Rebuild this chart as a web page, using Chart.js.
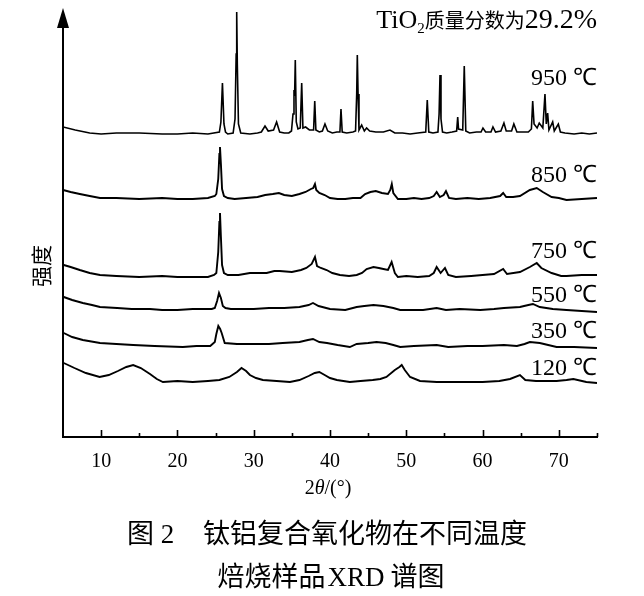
<!DOCTYPE html>
<html>
<head>
<meta charset="utf-8">
<script src="https://cdn.jsdelivr.net/npm/chart.js@4.4.1/dist/chart.umd.min.js"></script>
<style>
  html, body { margin: 0; padding: 0; background: #fff; }
  canvas { display: block; }
</style>
</head>
<body>
<canvas id="c" width="644" height="596"></canvas>
<script>
// ---------- data: [2θ (°), relative intensity (a.u.)] ----------
const xrd950 = [[5.0,7],[6.6,4],[8.5,1],[10,0],[12,1],[15,1],[18,0],[20,0],[22,1],[24,0],[25.5,2],[25.7,12],[25.9,51],[26.1,10],[26.3,2],[26.6,0],[27.3,1],[27.55,15],[27.7,80],[27.77,122],[27.85,70],[28.0,10],[28.3,1],[29.5,0],[30.5,1],[31.0,2],[31.48,8],[31.9,3],[32.6,4],[33.0,12],[33.4,2],[34.0,1],[34.6,1],[34.95,3],[35.15,20],[35.28,44],[35.36,38],[35.45,74],[35.58,12],[35.8,5],[36.1,6],[36.29,51],[36.45,6],[36.8,7],[37.3,4],[37.85,4],[38.0,33],[38.15,4],[38.6,2],[39.0,3],[39.34,10],[39.7,3],[40.3,1],[40.9,2],[41.3,2],[41.44,25],[41.6,2],[42.2,1],[43.0,2],[43.35,3],[43.5,40],[43.58,79],[43.68,40],[43.8,4],[44.15,9],[44.5,3],[44.8,6],[45.2,3],[46.0,2],[47.0,2],[47.86,4],[48.5,1],[49.5,1],[50.5,0],[51.5,1],[52.55,2],[52.75,34],[52.95,2],[53.5,1],[54.15,2],[54.3,20],[54.42,59],[54.55,15],[54.75,2],[55.3,1],[56.0,2],[56.6,3],[56.74,17],[56.85,5],[57.4,4],[57.6,68],[57.8,3],[58.3,1],[59.2,2],[59.8,2],[60.05,6],[60.4,2],[61.1,2],[61.36,7],[61.7,2],[62.4,3],[62.8,11],[63.1,3],[63.8,3],[64.1,10],[64.5,2],[65.2,2],[66.0,2],[66.4,5],[66.57,33],[66.75,10],[67.15,6],[67.43,11],[67.9,6],[68.18,40],[68.35,10],[68.53,21],[68.7,4],[69.19,12],[69.4,3],[69.93,10],[70.2,2],[70.8,1],[72,0],[73,1],[74,0],[75,1]];
const xrd850 = [[5.0,9],[6.0,7],[7.2,5],[8.5,3],[9.85,1],[12,1],[15,0],[18,1],[20,0],[22,0],[24,1],[24.9,3],[25.1,5],[25.35,20],[25.5,45],[25.58,52],[25.7,35],[25.85,10],[26.1,3],[26.6,1],[27.5,0],[29,1],[30.5,2],[31.5,4],[32.5,5],[33.3,6],[34,4],[35,3],[36,5],[36.8,7],[37.5,10],[37.8,11],[38.03,15],[38.2,9],[38.6,6],[39.3,4],[40,1],[41,0],[42,0],[43,1],[44.0,1],[44.6,5],[45.3,7],[46.0,8],[46.8,6],[47.6,5],[47.9,9],[48.1,15],[48.3,6],[48.9,0],[50,0],[51,1],[52,0],[53,1],[53.6,3],[53.98,7],[54.4,2],[54.9,4],[55.2,8],[55.6,1],[56.5,0],[58,1],[59.5,0],[61,1],[62.3,3],[62.7,6],[63.1,2],[64.0,2],[64.9,3],[66.2,9],[67.1,11],[67.9,7],[69.05,2],[70,1],[71.0,-1],[73,0],[75,1]];
const xrd750 = [[5.1,12],[6.0,10],[7.2,7],[8.5,4],[9.85,2],[12,1],[15,0],[18,1],[20,0],[22,0],[24,0],[24.8,2],[25.1,4],[25.35,25],[25.5,55],[25.58,64],[25.7,40],[25.85,12],[26.1,4],[26.6,2],[28,2],[29.5,4],[31.7,4],[32.7,6],[33.4,6],[35,5],[36.2,7],[36.9,9],[37.6,13],[38.03,20],[38.3,11],[38.8,9],[39.56,7],[40.3,4],[41.3,2],[42.5,1],[43.5,2],[44.2,4],[44.8,8],[45.7,10],[46.4,9],[47.0,8],[47.6,7],[48.08,15],[48.5,4],[48.9,0],[50,1],[51.5,0],[53,1],[53.6,4],[53.98,10],[54.5,4],[55.07,9],[55.5,2],[56.5,0],[58.5,1],[60,2],[61.5,3],[62.7,8],[63.2,3],[64.9,5],[66.2,10],[67.1,14],[67.7,9],[69.05,4],[70.3,1],[71.0,1],[73,2],[75,2]];
const xrd550 = [[5.1,13],[6.2,10],[7.6,7],[8.8,5],[9.85,3],[12.1,2],[14,1],[16.4,1],[18,0],[20,0],[22,1],[24.5,1],[24.9,2],[25.2,9],[25.45,17],[25.7,12],[25.95,4],[26.3,2],[27,1],[28.5,1],[30,1],[32,2],[34,2],[36,3],[37.2,5],[37.77,7],[38.5,4],[40,1],[42,0],[43.5,3],[44.5,4],[45.7,5],[47.0,4],[48.3,2],[49.2,0],[51,0],[52.2,0],[53.98,2],[55.2,0],[57,1],[59.7,0],[61.5,1],[62.8,2],[64.9,3],[66.0,5],[66.6,6],[67.5,3],[69.2,1],[71,0],[73,-1],[75,-2]];
const xrd350 = [[5.1,13],[6.2,9],[7.6,6],[9.85,3],[12,2],[14.2,1],[17,0],[20.7,-1],[22.5,0],[24.3,0],[24.9,4],[25.1,12],[25.36,20],[25.6,17],[25.8,13],[26.2,3],[27.8,2],[30,2],[32,2],[33.8,3],[36,4],[37.1,6],[37.77,7],[38.6,4],[39.6,3],[41,1],[42.6,-1],[43.5,2],[45,3],[46.1,4],[47.3,3],[48.3,1],[49.2,-1],[51,0],[53.98,1],[55.5,-1],[58,0],[60,0],[62.8,1],[64.5,0],[65.5,2],[66.2,4],[67.5,3],[68.6,1],[69.7,-1],[72,-1],[75,-2]];
const xrd120 = [[5.1,19],[6.5,14],[8.0,9],[9.8,5],[11,7],[12.2,11],[13.3,15],[14.2,17],[15.2,14],[16.4,8],[17.3,3],[18.1,0],[20,1],[22,0],[24,1],[25.5,2],[26.8,5],[27.8,10],[28.4,14],[29.0,11],[29.5,7],[30.3,4],[31.2,2],[33,1],[34.75,0],[36,2],[37.2,6],[38.0,9],[38.6,10],[39.3,7],[40.0,4],[40.9,2],[42.6,0],[44,1],[45.6,2],[46.6,3],[47.4,5],[48.5,12],[49.1,15],[49.4,17],[49.8,12],[50.5,5],[51.8,1],[54,0],[57,0],[60,0],[62.2,1],[63.6,3],[64.9,7],[65.6,2],[67,1],[69.7,1],[71.0,2],[71.9,3],[73.6,0],[75,-1]];

const temperatures = ['950 ℃', '850 ℃', '750 ℃', '550 ℃', '350 ℃', '120 ℃'];
const seriesList   = [xrd950, xrd850, xrd750, xrd550, xrd350, xrd120];
const stackOffsets = [303, 238, 160, 127, 91, 55];   // vertical offset of each pattern (a.u.)
const xTickValues  = [10, 15, 20, 25, 30, 35, 40, 45, 50, 55, 60, 65, 70, 75];
const titleText    = ['TiO', '2', '质量分数为', '29.2%'];
const yAxisTitle   = '强度';
const captionLines = [['图 2', '钛铝复合氧化物在不同温度'], ['焙烧样品', 'XRD', '谱图']];

// ---------- build datasets ----------
const datasets = seriesList.map((s, i) => ({
  label: temperatures[i],
  data: s.map(p => ({ x: p[0], y: p[1] + stackOffsets[i] })),
  borderColor: '#000',
  borderWidth: i === 0 ? 1.6 : 1.9,
  pointRadius: 0,
  tension: 0,
  fill: false
}));

const SERIF = '"Liberation Serif", "Times New Roman", serif';
const CJK = '"Noto Sans CJK SC", sans-serif';

const labelBaselines = [85, 182, 258, 302, 338, 375];

const decor = {
  id: 'decor',
  afterDraw(chart) {
    const { ctx, chartArea: a, scales: { x } } = chart;
    ctx.save();
    ctx.strokeStyle = '#000';
    ctx.fillStyle = '#000';
    // axes
    ctx.lineWidth = 2;
    ctx.beginPath();
    ctx.moveTo(a.left - 1, a.bottom);
    ctx.lineTo(a.right + 1, a.bottom);
    ctx.stroke();
    ctx.beginPath();
    ctx.moveTo(a.left, a.bottom + 1);
    ctx.lineTo(a.left, a.top + 14);
    ctx.stroke();
    // arrow head
    ctx.beginPath();
    ctx.moveTo(a.left, a.top);
    ctx.lineTo(a.left - 6, a.top + 20);
    ctx.lineTo(a.left + 6, a.top + 20);
    ctx.closePath();
    ctx.fill();
    // inward ticks
    ctx.lineWidth = 1.6;
    xTickValues.forEach(v => {
      const px = Math.round(x.getPixelForValue(v)) + 0.5;
      const len = v % 10 === 0 ? 7 : 4;
      ctx.beginPath();
      ctx.moveTo(px, a.bottom);
      ctx.lineTo(px, a.bottom - len);
      ctx.stroke();
    });

    // temperature labels
    ctx.font = '24px ' + SERIF;
    ctx.textAlign = 'right';
    ctx.textBaseline = 'alphabetic';
    temperatures.forEach((t, i) => ctx.fillText(t, a.right, labelBaselines[i]));

    // top-right annotation
    const pieces = [
      { t: titleText[0], f: '26px ' + SERIF, dy: 0 },
      { t: titleText[1], f: '15px ' + SERIF, dy: 5 },
      { t: titleText[2], f: '20px ' + CJK, dy: 0 },
      { t: titleText[3], f: '28px ' + SERIF, dy: 0 }
    ];
    ctx.textAlign = 'left';
    let total = 0;
    pieces.forEach(p => { ctx.font = p.f; p.w = ctx.measureText(p.t).width; total += p.w; });
    let cx = a.right - total;
    pieces.forEach(p => { ctx.font = p.f; ctx.fillText(p.t, cx, 28 + p.dy); cx += p.w; });

    // y axis title
    ctx.save();
    ctx.translate(41, 266);
    ctx.rotate(-Math.PI / 2);
    ctx.font = '21px ' + CJK;
    ctx.textAlign = 'center';
    ctx.textBaseline = 'middle';
    ctx.fillText(yAxisTitle, 0, 0);
    ctx.restore();

    // x axis title 2θ/(°)
    const xt = [
      { t: '2', f: '20px ' + SERIF },
      { t: 'θ', f: 'italic 20px ' + SERIF },
      { t: '/(°)', f: '20px ' + SERIF }
    ];
    total = 0;
    xt.forEach(p => { ctx.font = p.f; p.w = ctx.measureText(p.t).width; total += p.w; });
    cx = 328 - total / 2;
    xt.forEach(p => { ctx.font = p.f; ctx.fillText(p.t, cx, 494); cx += p.w; });

    // caption
    ctx.font = '27px ' + SERIF + ', ' + CJK;
    ctx.fillText(captionLines[0][0], 127, 543);
    ctx.font = '27px ' + CJK;
    ctx.fillText(captionLines[0][1], 203, 543);
    const l2 = [
      { t: captionLines[1][0], f: '27px ' + CJK, gap: 2 },
      { t: captionLines[1][1], f: '27px ' + SERIF, gap: 6 },
      { t: captionLines[1][2], f: '27px ' + CJK, gap: 0 }
    ];
    total = 0;
    l2.forEach(p => { ctx.font = p.f; p.w = ctx.measureText(p.t).width; total += p.w + p.gap; });
    cx = 331 - total / 2;
    l2.forEach(p => { ctx.font = p.f; ctx.fillText(p.t, cx, 586); cx += p.w + p.gap; });

    ctx.restore();
  }
};

new Chart(document.getElementById('c'), {
  type: 'line',
  data: { datasets },
  options: {
    responsive: false,
    devicePixelRatio: 1,
    animation: false,
    layout: { padding: { left: 63, right: 47, top: 8, bottom: 109 } },
    plugins: { legend: { display: false }, tooltip: { enabled: false } },
    scales: {
      x: {
        type: 'linear',
        min: 5,
        max: 75,
        grid: { display: false },
        border: { display: false },
        afterFit: s => { s.height = 50; },
        ticks: {
          stepSize: 5,
          autoSkip: false,
          maxRotation: 0,
          padding: 5,
          color: '#000',
          font: { family: 'Liberation Serif', size: 20 },
          callback: v => (v % 10 === 0 ? String(v) : '')
        }
      },
      y: { type: 'linear', min: 0, max: 429, display: false }
    }
  },
  plugins: [decor]
});
</script>
</body>
</html>
